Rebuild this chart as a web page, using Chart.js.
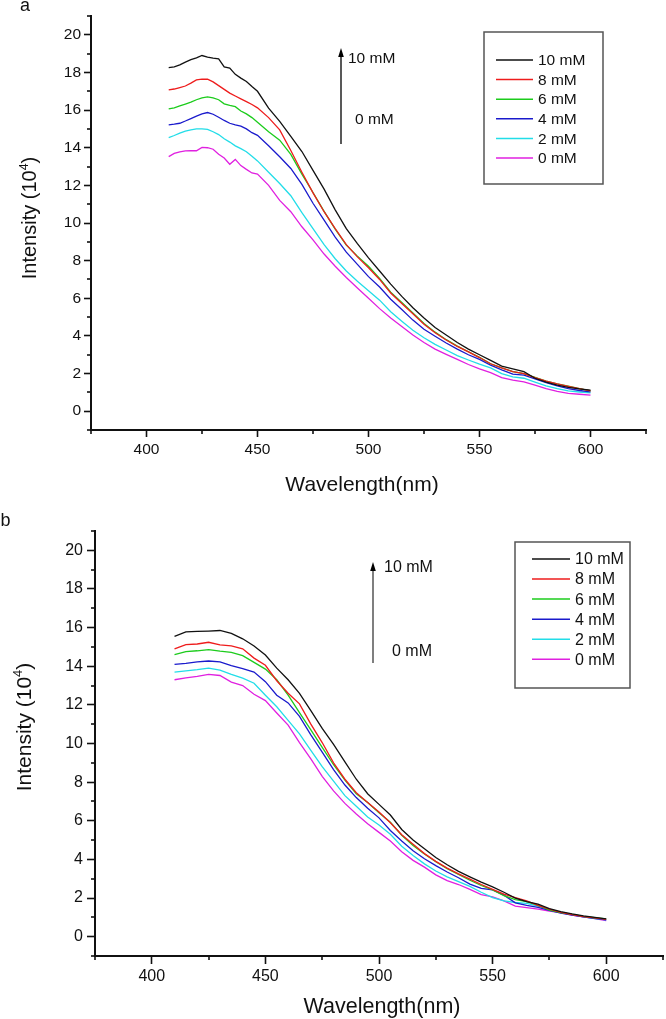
<!DOCTYPE html>
<html><head><meta charset="utf-8">
<script src="https://cdn.jsdelivr.net/npm/chart.js@4.4.1/dist/chart.umd.min.js"></script>
<style>
html,body{margin:0;padding:0;background:#fff;}
body{width:666px;height:1019px;position:relative;overflow:hidden;}
.pane{position:absolute;left:0;}
canvas{display:block;}
</style></head><body>
<div class="pane" style="top:0"><canvas id="ca" width="666" height="505"></canvas></div>
<div class="pane" style="top:505px"><canvas id="cb" width="666" height="514"></canvas></div>
<script>
// ---------- data ----------
const seriesLabels = ['10 mM','8 mM','6 mM','4 mM','2 mM','0 mM'];
const xTickLabels = ['400','450','500','550','600'];
const yTickLabels = ['0','2','4','6','8','10','12','14','16','18','20'];

// panel a
const wavelengthA = [410,412.5,415,417.5,420,422.5,425,427.5,430,432.5,435,437.5,440,442.5,445,447.5,450,
  455,460,465,470,475,480,485,490,495,500,505,510,515,520,525,530,535,540,545,550,555,560,565,570,575,580,585,590,595,600];
const a10 = [18.26,18.3,18.4,18.55,18.68,18.78,18.9,18.82,18.76,18.72,18.3,18.23,17.9,17.7,17.52,17.25,17.0,
  16.1,15.4,14.6,13.8,12.8,11.8,10.7,9.7,8.9,8.15,7.45,6.75,6.1,5.5,4.95,4.45,4.05,3.65,3.3,3.0,2.7,2.4,2.25,2.1,1.75,1.55,1.38,1.27,1.18,1.12];
const a8 = [17.07,17.12,17.2,17.28,17.43,17.6,17.65,17.64,17.5,17.3,17.1,16.9,16.75,16.6,16.45,16.3,16.12,
  15.6,14.95,13.85,12.7,11.6,10.6,9.7,8.85,8.2,7.62,7.0,6.28,5.72,5.18,4.62,4.17,3.78,3.44,3.15,2.85,2.52,2.3,2.1,2.0,1.78,1.6,1.45,1.32,1.2,1.08];
const a6 = [16.06,16.12,16.22,16.32,16.42,16.55,16.65,16.7,16.65,16.55,16.33,16.25,16.18,15.95,15.8,15.6,15.35,
  14.85,14.4,13.65,12.6,11.62,10.62,9.68,8.82,8.24,7.7,7.05,6.32,5.78,5.22,4.66,4.2,3.8,3.46,3.16,2.86,2.52,2.3,2.1,2.0,1.8,1.6,1.45,1.33,1.2,1.08];
const a4 = [15.21,15.25,15.3,15.42,15.55,15.68,15.8,15.87,15.78,15.62,15.45,15.3,15.21,15.15,15.0,14.8,14.66,
  14.1,13.52,12.9,12.05,11.05,10.15,9.25,8.45,7.8,7.15,6.6,5.95,5.4,4.84,4.35,3.98,3.62,3.3,3.0,2.75,2.45,2.2,1.97,1.92,1.72,1.52,1.35,1.2,1.1,1.03];
const a2 = [14.54,14.65,14.78,14.88,14.95,15.0,15.0,14.98,14.85,14.7,14.48,14.3,14.1,13.95,13.79,13.55,13.3,
  12.7,12.1,11.45,10.55,9.7,8.85,8.1,7.45,6.9,6.4,5.9,5.28,4.78,4.3,3.9,3.55,3.25,2.95,2.72,2.5,2.3,2.0,1.82,1.75,1.55,1.35,1.2,1.08,1.02,0.97];
const a0 = [13.53,13.7,13.78,13.83,13.85,13.84,14.02,14.0,13.92,13.65,13.45,13.12,13.38,13.05,12.85,12.66,12.6,
  12.0,11.2,10.6,9.8,9.1,8.35,7.7,7.1,6.55,6.0,5.45,4.95,4.5,4.05,3.65,3.3,3.02,2.75,2.48,2.25,2.05,1.78,1.65,1.56,1.38,1.2,1.05,0.95,0.9,0.85];

// panel b
const wavelengthB = [410,415,420,425,430,435,440,445,450,455,460,465,470,475,480,485,490,495,500,
  505,510,515,520,525,530,535,540,545,550,555,560,565,570,575,580,585,590,595,600];
const b10 = [15.55,15.78,15.8,15.82,15.85,15.7,15.42,15.05,14.58,13.9,13.3,12.6,11.7,10.78,9.95,9.05,8.15,7.4,6.85,
  6.3,5.55,5.0,4.55,4.1,3.72,3.38,3.1,2.82,2.58,2.3,2.0,1.82,1.68,1.45,1.3,1.18,1.08,1.0,0.92];
const b8 = [14.9,15.12,15.15,15.24,15.1,15.05,14.9,14.42,14.05,13.25,12.6,12.05,11.0,10.05,9.0,8.15,7.45,6.95,6.45,
  5.9,5.28,4.78,4.3,3.9,3.55,3.25,2.98,2.7,2.45,2.2,2.02,1.85,1.62,1.42,1.26,1.14,1.04,0.97,0.9];
const b6 = [14.6,14.76,14.8,14.86,14.78,14.72,14.55,14.2,13.85,13.3,12.5,11.6,10.7,9.8,8.9,8.1,7.4,6.95,6.42,
  5.92,5.25,4.72,4.28,3.88,3.52,3.22,2.92,2.65,2.42,2.12,1.92,1.82,1.62,1.38,1.25,1.15,1.05,0.98,0.92];
const b4 = [14.1,14.15,14.22,14.27,14.22,14.03,13.88,13.7,13.2,12.5,12.1,11.4,10.45,9.55,8.65,7.85,7.2,6.65,6.15,
  5.5,4.95,4.45,4.03,3.68,3.35,3.05,2.72,2.5,2.42,2.15,1.75,1.62,1.52,1.36,1.22,1.12,1.03,0.95,0.87];
const b2 = [13.7,13.76,13.82,13.9,13.8,13.58,13.38,13.12,12.5,11.9,11.2,10.5,9.65,8.8,8.05,7.3,6.75,6.2,5.78,
  5.3,4.68,4.2,3.77,3.4,3.1,2.85,2.6,2.3,2.02,1.85,1.77,1.72,1.58,1.4,1.25,1.14,1.02,0.94,0.87];
const b0 = [13.3,13.4,13.48,13.58,13.52,13.18,13.0,12.55,12.22,11.58,10.95,10.05,9.2,8.3,7.55,6.9,6.35,5.85,5.4,
  4.95,4.4,3.95,3.6,3.2,2.9,2.7,2.45,2.18,2.06,1.85,1.58,1.5,1.43,1.33,1.25,1.12,1.03,0.93,0.83];

// ---------- styles ----------
const FONT = '"Liberation Sans", Arial, Helvetica, sans-serif';
const seriesColors = ['#111111','#ee1c1c','#1ccc1c','#1a1acc','#22dde8','#e020e0'];

const decor = {
  id: 'decor',
  afterDraw(chart, args, P) {
    const ctx = chart.ctx, xs = chart.scales.x, ys = chart.scales.y;
    ctx.save();
    // minor ticks
    ctx.strokeStyle = '#111'; ctx.lineWidth = 1.6;
    xs.ticks.forEach(t => {
      if (xTickLabels.includes(String(t.value))) return;
      const px = Math.round(xs.getPixelForValue(t.value));
      ctx.beginPath(); ctx.moveTo(px, xs.top); ctx.lineTo(px, xs.top + P.minorLen); ctx.stroke();
    });
    ys.ticks.forEach(t => {
      if (yTickLabels.includes(String(t.value))) return;
      const py = Math.round(ys.getPixelForValue(t.value));
      ctx.beginPath(); ctx.moveTo(ys.right, py); ctx.lineTo(ys.right - P.minorLen, py); ctx.stroke();
    });
    // panel letter
    ctx.fillStyle = '#111';
    ctx.font = P.letter.size + 'px ' + FONT;
    ctx.textAlign = 'left'; ctx.textBaseline = 'alphabetic';
    ctx.fillText(P.letter.text, P.letter.x, P.letter.y);
    // x title
    ctx.font = P.xTitle.size + 'px ' + FONT;
    ctx.textAlign = 'center';
    ctx.fillText('Wavelength(nm)', P.xTitle.x, P.xTitle.y);
    // y title with superscript
    ctx.save();
    ctx.translate(P.yTitle.x, P.yTitle.y);
    ctx.rotate(-Math.PI / 2);
    const s = P.yTitle.size, sup = s * 0.62;
    ctx.font = s + 'px ' + FONT;
    const t1 = 'Intensity (10', t3 = ')';
    const w1 = ctx.measureText(t1).width, w3 = ctx.measureText(t3).width;
    ctx.font = sup + 'px ' + FONT;
    const w2 = ctx.measureText('4').width;
    let x0 = -(w1 + w2 + w3) / 2;
    ctx.textAlign = 'left';
    ctx.font = s + 'px ' + FONT; ctx.fillText(t1, x0, 0);
    ctx.font = sup + 'px ' + FONT; ctx.fillText('4', x0 + w1, -s * 0.42);
    ctx.font = s + 'px ' + FONT; ctx.fillText(t3, x0 + w1 + w2, 0);
    ctx.restore();
    // arrow annotation
    const A = P.arrow;
    ctx.strokeStyle = A.color; ctx.lineWidth = 1.5;
    ctx.beginPath(); ctx.moveTo(A.x, A.y1 + 6); ctx.lineTo(A.x, A.y2); ctx.stroke();
    ctx.fillStyle = '#000';
    ctx.beginPath(); ctx.moveTo(A.x, A.y1); ctx.lineTo(A.x - 2.8, A.y1 + 9); ctx.lineTo(A.x + 2.8, A.y1 + 9); ctx.closePath(); ctx.fill();
    ctx.fillStyle = '#111';
    ctx.font = P.annSize + 'px ' + FONT; ctx.textAlign = 'left';
    ctx.fillText('10 mM', P.ann10.x, P.ann10.y);
    ctx.fillText('0 mM', P.ann0.x, P.ann0.y);
    // legend
    const L = P.legend;
    ctx.strokeStyle = '#555'; ctx.lineWidth = 1.5;
    ctx.strokeRect(L.x, L.y, L.w, L.h);
    ctx.font = L.size + 'px ' + FONT; ctx.textBaseline = 'middle';
    chart.data.datasets.forEach((d, i) => {
      const yy = L.row0 + i * L.dy;
      ctx.strokeStyle = d.borderColor; ctx.lineWidth = 1.5;
      ctx.beginPath(); ctx.moveTo(L.lx1, yy); ctx.lineTo(L.lx2, yy); ctx.stroke();
      ctx.fillStyle = '#111';
      ctx.fillText(d.label, L.tx, yy + 1);
    });
    ctx.restore();
  }
};

function makeChart(id, wl, sets, P) {
  return new Chart(document.getElementById(id), {
    type: 'line',
    data: {
      datasets: sets.map((vals, i) => ({
        label: seriesLabels[i],
        data: wl.map((x, j) => ({x: x, y: vals[j]})),
        borderColor: seriesColors[i], borderWidth: 1.3,
        pointRadius: 0, tension: 0, fill: false
      }))
    },
    options: {
      responsive: false, animation: false, devicePixelRatio: 1,
      layout: {padding: {top: P.padTop, right: P.padRight, left: 0, bottom: 0}},
      plugins: {legend: {display: false}, tooltip: {enabled: false}, decor: P},
      scales: {
        x: {
          type: 'linear', min: 375, max: 625,
          afterFit(s) { s.height = P.xH; },
          ticks: {stepSize: 25, autoSkip: false, maxRotation: 0, padding: P.xPad, color: '#111',
            font: {family: FONT, size: P.tickSize},
            callback: v => xTickLabels.includes(String(v)) ? String(v) : ''},
          grid: {drawOnChartArea: false, drawTicks: true, tickLength: P.majorLen, tickWidth: 1.6,
            tickColor: c => (c.tick && xTickLabels.includes(String(c.tick.value))) ? '#111' : 'rgba(0,0,0,0)'},
          border: {display: true, color: '#111', width: 2}
        },
        y: {
          type: 'linear', min: -1, max: 21,
          afterFit(s) { s.width = P.yW; },
          ticks: {stepSize: 1, autoSkip: false, padding: P.yPad, color: '#111',
            font: {family: FONT, size: P.tickSize},
            callback: v => yTickLabels.includes(String(v)) ? String(v) : ''},
          grid: {drawOnChartArea: false, drawTicks: true, tickLength: P.majorLen, tickWidth: 1.6,
            tickColor: c => (c.tick && yTickLabels.includes(String(c.tick.value))) ? '#111' : 'rgba(0,0,0,0)'},
          border: {display: true, color: '#111', width: 2}
        }
      }
    },
    plugins: [decor]
  });
}

makeChart('ca', wavelengthA, [a10, a8, a6, a4, a2, a0], {
  padTop: 16, padRight: 20, yW: 91, xH: 75, xPad: 3, yPad: 3, majorLen: 7, minorLen: 4, tickSize: 15.5,
  letter: {text: 'a', x: 20, y: 10.5, size: 18},
  xTitle: {x: 362, y: 491, size: 21},
  yTitle: {x: 36, y: 218, size: 20},
  arrow: {x: 341, y1: 48, y2: 144, color: '#222'},
  annSize: 15.5, ann10: {x: 348, y: 63}, ann0: {x: 355, y: 124},
  legend: {x: 484, y: 32, w: 119, h: 152, lx1: 496, lx2: 533, tx: 538, row0: 60, dy: 19.6, size: 15.5}
});
makeChart('cb', wavelengthB, [b10, b8, b6, b4, b2, b0], {
  padTop: 26, padRight: 2, yW: 95, xH: 63, xPad: 3, yPad: 4, majorLen: 8, minorLen: 4, tickSize: 16,
  letter: {text: 'b', x: 0.5, y: 21, size: 18},
  xTitle: {x: 382, y: 508, size: 21.5},
  yTitle: {x: 31, y: 222, size: 21},
  arrow: {x: 373, y1: 57, y2: 158, color: '#555'},
  annSize: 16, ann10: {x: 384, y: 67}, ann0: {x: 392, y: 151},
  legend: {x: 515, y: 37, w: 115, h: 146, lx1: 532, lx2: 570, tx: 575, row0: 54, dy: 20.06, size: 16}
});
</script>
</body></html>
